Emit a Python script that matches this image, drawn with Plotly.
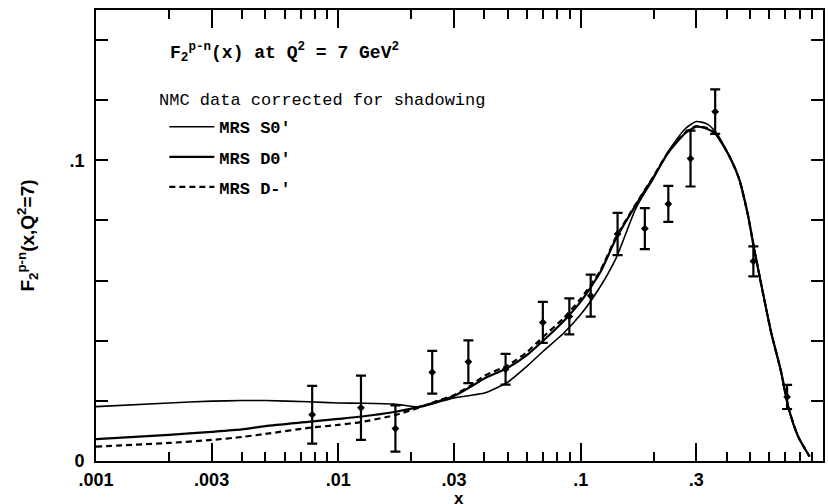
import plotly.graph_objects as go

# ---- data ----
X_CURVE = [0.001, 0.002, 0.003, 0.004, 0.005, 0.0075, 0.01, 0.0125, 0.017, 0.0215,
           0.025, 0.03, 0.035, 0.04, 0.05, 0.06, 0.07, 0.085, 0.1, 0.12, 0.14,
           0.17, 0.2, 0.23, 0.27, 0.3, 0.33, 0.36, 0.41, 0.45, 0.49, 0.52, 0.56,
           0.61, 0.67, 0.72, 0.79, 0.88]

MRS_S0 = [0.0181, 0.0193, 0.0199, 0.0201, 0.0201, 0.0197, 0.0193, 0.0192, 0.0189, 0.0180,
          0.0192, 0.0210, 0.0218, 0.0226, 0.0262, 0.0315, 0.0365, 0.0425, 0.0487, 0.0578, 0.0675,
          0.0845, 0.0940, 0.1030, 0.1105, 0.1129, 0.1122, 0.1095, 0.1015, 0.0940, 0.0818, 0.0705, 0.0575,
          0.0430, 0.0300, 0.0178, 0.0081, 0.0015]

MRS_D0 = [0.0073, 0.0087, 0.0097, 0.0105, 0.0116, 0.0130, 0.0140, 0.0148, 0.0163, 0.0180,
          0.0195, 0.0216, 0.0246, 0.0274, 0.0310, 0.0352, 0.0400, 0.0465, 0.0530, 0.0625, 0.0740,
          0.0855, 0.0945, 0.1026, 0.1090, 0.1112, 0.1106, 0.1088, 0.1015, 0.0940, 0.0818, 0.0705, 0.0575,
          0.0430, 0.0300, 0.0178, 0.0081, 0.0015]

MRS_DM = [0.0048, 0.0060, 0.0070, 0.0080, 0.0090, 0.0110, 0.0120, 0.0130, 0.0152, 0.0177,
          0.0197, 0.0219, 0.0250, 0.0283, 0.0318, 0.0362, 0.0413, 0.0475, 0.0540, 0.0630, 0.0745,
          0.0858, 0.0947, 0.1028, 0.1092, 0.1114, 0.1108, 0.1090, 0.1015, 0.0940, 0.0818, 0.0705, 0.0575,
          0.0430, 0.0300, 0.0178, 0.0081, 0.0015]

X_DATA = [0.0078, 0.0124, 0.0172, 0.0244, 0.0344, 0.049, 0.0698, 0.0898, 0.110,
          0.142, 0.184, 0.230, 0.284, 0.359, 0.516, 0.711]
Y_DATA = [0.0154, 0.0177, 0.0108, 0.0295, 0.0330, 0.0305, 0.0461, 0.0481, 0.0550,
          0.0755, 0.0773, 0.0855, 0.1006, 0.1162, 0.0664, 0.0213]
Y_ERR = [0.0096, 0.0107, 0.0077, 0.0071, 0.0071, 0.0051, 0.0068, 0.0060, 0.0070,
         0.0070, 0.0068, 0.0060, 0.0093, 0.0074, 0.0050, 0.0040]

X_TICKS = [0.001, 0.003, 0.01, 0.03, 0.1, 0.3, 1]
X_TICKTEXT = [".001", ".003", ".01", ".03", ".1", ".3", "1"]
X_MINOR = [m * d for d in (0.001, 0.01, 0.1) for m in (2, 4, 5, 6, 7, 8, 9)]
Y_TICKS = [0, 0.1]
Y_TICKTEXT = ["0", ".1"]
Y_MINOR = [0.02, 0.04, 0.06, 0.08, 0.12, 0.14]

MONO = "Liberation Mono"
SANS = "Liberation Sans"

fig = go.Figure()

fig.add_trace(go.Scatter(x=X_CURVE, y=MRS_S0, mode="lines", name="MRS S0'",
                         legendgroup="a",
                         line=dict(color="black", width=1.6, shape="spline", smoothing=0.6)))
fig.add_trace(go.Scatter(x=X_CURVE, y=MRS_D0, mode="lines", name="MRS D0'",
                         legendgroup="b",
                         line=dict(color="black", width=2.2, shape="spline", smoothing=0.6)))
fig.add_trace(go.Scatter(x=X_CURVE, y=MRS_DM, mode="lines", name="MRS D-'",
                         legendgroup="c",
                         line=dict(color="black", width=2.2, dash="6px,4px", shape="spline", smoothing=0.6)))
fig.add_trace(go.Scatter(x=X_DATA, y=Y_DATA, mode="markers", showlegend=False,
                         marker=dict(symbol="diamond", size=6, color="black"),
                         error_y=dict(type="data", array=Y_ERR, visible=True,
                                      color="black", thickness=2.2, width=5)))

fig.update_layout(
    width=828, height=504,
    margin=dict(l=96, r=3, t=10, b=43),
    paper_bgcolor="white", plot_bgcolor="white",
    font=dict(family=SANS, color="black"),
    legend=dict(x=0.094, y=0.780, xanchor="left", yanchor="top",
                bgcolor="rgba(0,0,0,0)", tracegroupgap=5, itemwidth=45,
                font=dict(family=MONO, size=17, color="black", weight="bold")),
    annotations=[
        dict(text="F<sub>2</sub><sup>p-n</sup>(x) at Q<sup>2</sup> = 7 GeV<sup>2</sup>",
             x=0.0988, y=0.905, xref="paper", yref="paper", xanchor="left", yanchor="middle",
             showarrow=False, font=dict(family=MONO, size=18, color="black", weight="bold")),
        dict(text="NMC data corrected for shadowing",
             x=0.0837, y=0.800, xref="paper", yref="paper", xanchor="left", yanchor="middle",
             showarrow=False, font=dict(family=MONO, size=17, color="black")),
        dict(text="x", x=0.499, y=-0.084, xref="paper", yref="paper",
             xanchor="center", yanchor="middle", showarrow=False,
             font=dict(family=SANS, size=17, color="black", weight="bold")),
    ],
)

fig.update_xaxes(type="log", range=[-3, 0], showgrid=False, zeroline=False,
                 showline=True, linecolor="black", linewidth=2, mirror="ticks",
                 ticks="inside", ticklen=18, tickwidth=1.5, tickcolor="black",
                 tickvals=X_TICKS, ticktext=X_TICKTEXT, ticklabelstandoff=1,
                 tickfont=dict(family=SANS, size=18, color="black", weight="bold"),
                 minor=dict(tickvals=X_MINOR, ticks="inside", ticklen=9, tickwidth=1.5,
                            tickcolor="black", showgrid=False))

fig.update_yaxes(range=[0, 0.15], showgrid=False, zeroline=False,
                 showline=True, linecolor="black", linewidth=2, mirror="ticks",
                 ticks="inside", ticklen=12, tickwidth=1.5, tickcolor="black",
                 tickvals=Y_TICKS, ticktext=Y_TICKTEXT, ticklabelstandoff=6,
                 tickfont=dict(family=SANS, size=18, color="black", weight="bold"),
                 minor=dict(tickvals=Y_MINOR, ticks="inside", ticklen=12, tickwidth=1.5,
                            tickcolor="black", showgrid=False),
                 title=dict(text="F<sub>2</sub><sup>p-n</sup>(x,Q<sup>2</sup>=7)", standoff=30,
                            font=dict(family=SANS, size=19, color="black", weight="bold")))

fig.write_html("out.html")
